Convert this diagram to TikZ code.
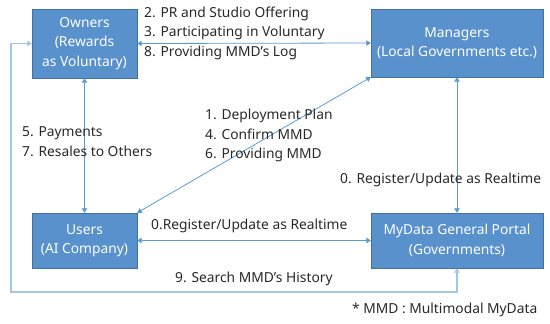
\documentclass[tikz,border=0pt]{standalone}
\usepackage{fontspec}
\setmainfont{Noto Sans}
\usetikzlibrary{arrows.meta}
\definecolor{boxfill}{RGB}{88,145,204}
\definecolor{boxline}{RGB}{65,113,160}
\definecolor{linkblue}{RGB}{91,155,213}
\definecolor{looplight}{RGB}{160,198,233}
\definecolor{txtgray}{RGB}{40,40,40}
\begin{document}
\begin{tikzpicture}[x=1pt,y=-1pt,text=txtgray,
    actor/.style={draw=boxline, fill=boxfill, text=white, align=center, inner sep=0pt,
      font=\fontsize{13.8}{19.5}\selectfont},
    note/.style={anchor=west, align=left, inner sep=0pt, font=\fontsize{13.8}{19.5}\selectfont},
    link/.style={linkblue, line width=0.8pt, {Triangle[width=5.5pt,length=4.5pt]}-{Triangle[width=5.5pt,length=4.5pt]}}]
\useasboundingbox (0,0) rectangle (550,324);

% the four parties
\node[actor, minimum width=105pt, minimum height=69pt] (own) at (84.5,43.5) {Owners\\(Rewards\\as Voluntary)};
\node[actor, minimum width=172pt, minimum height=68pt] (man) at (457,43) {Managers\\(Local Governments etc.)};
\node[actor, minimum width=105pt, minimum height=55pt] (usr) at (84.5,240.5) {Users\\(AI Company)};
\node[actor, minimum width=172pt, minimum height=55pt] (por) at (457,240.5) {MyData General Portal\\(Governments)};

% flows between them
\draw[link] (own.east) -- (man.west);
\draw[link] (own.south) -- (usr.north);
\draw[link] (man.south west) -- (usr.north east);
\draw[link] (man.south) -- (por.north);
\draw[link] (usr.east) -- (por.west);

\coordinate (loopc) at (11,292);
\draw[link, looplight, line width=1.4pt] (por.south) |- (loopc) |- (own.west);

% labels
\node[note] (lblOffer) at (144,33) {2. PR and Studio Offering\\3. Participating in Voluntary\\8. Providing MMD’s Log};
\node[note] (lblPay) at (22,141.5) {5. Payments\\7. Resales to Others};
\node[note] (lblPlan) at (205,135.5) {1. Deployment Plan\\4. Confirm MMD\\6. Providing MMD};
\node[note] (lblRegMan) at (340,180) {0. Register/Update as Realtime};
\node[note] (lblRegUsr) at (151,226) {0.Register/Update as Realtime};
\node[note] (lblSearch) at (175,279) {9. Search MMD’s History};
\node[note] (lblMMD) at (352,310) {* MMD : Multimodal MyData};
\end{tikzpicture}
\end{document}
